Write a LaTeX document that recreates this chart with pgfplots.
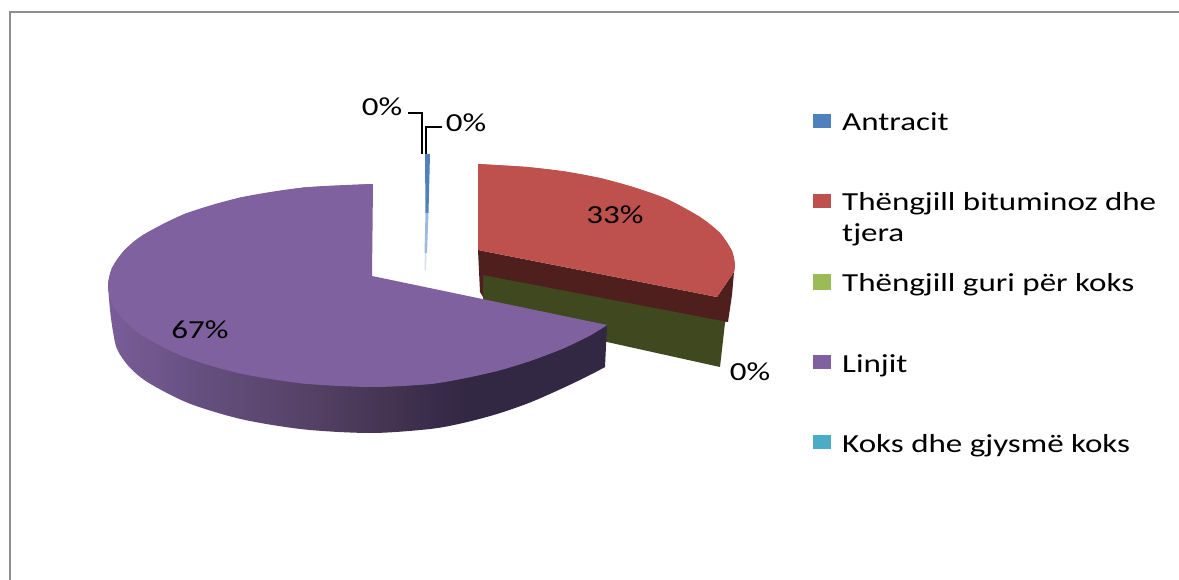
\documentclass[border=0pt]{standalone}
\usepackage{pgfplots}
\pgfplotsset{compat=1.18}
\usepackage{fontspec}
\setmainfont[FakeStretch=1.27]{Carlito}
\definecolor{cblue}{HTML}{4F81BD}
\definecolor{cred}{HTML}{BE504D}
\definecolor{cgreen}{HTML}{9BBB59}
\definecolor{cpurple}{HTML}{7F619F}
\definecolor{cteal}{HTML}{4BACC6}
\definecolor{dred}{HTML}{4E1F1D}
\definecolor{dgreen}{HTML}{40481F}
\definecolor{frame}{HTML}{8E8E8E}
\definecolor{sa}{HTML}{7A5D98}
\definecolor{sb}{HTML}{654F80}
\definecolor{sc}{HTML}{574368}
\definecolor{sd}{HTML}{42324F}
\definecolor{se}{HTML}{3A2C4C}
\definecolor{sf}{HTML}{322843}
\pgfdeclarehorizontalshading{pieside}{100bp}{color(0bp)=(sa); color(25bp)=(sa); color(34.2bp)=(sb); color(44.2bp)=(sc); color(54.2bp)=(sd); color(57.3bp)=(se); color(61.3bp)=(sf); color(100bp)=(sf)}
\tikzset{lab/.style={font=\fontsize{26}{26}\selectfont, text=black, inner sep=0pt}}
\begin{document}
\begin{tikzpicture}
\begin{axis}[
  at={(0,0)}, anchor=south west,
  width=1179pt, height=580pt, scale only axis,
  xmin=0, xmax=1179, ymin=0, ymax=580, y dir=reverse,
  axis lines=none, clip=true,
]
% canvas
\addplot[draw=none, fill=white] coordinates {(0,0) (1179,0) (1179,580) (0,580)} -- cycle;
% frame
\addplot[color=frame, line width=2.6pt] coordinates {(10,600) (10,12) (1200,12)};
% green inner face (0 %)
\addplot[draw=none, fill=dgreen] coordinates {(483,270) (727,318) (725,323) (720,367) (607,342) (483,302)} -- cycle;
% red wedge, inner wall
\addplot[draw=none, fill=dred] coordinates {(478,250) (717,297) (734,272) (732,295) (728,322) (483,275) (483,297) (480,292)} -- cycle;
% red wedge, top
\addplot[draw=none, fill=cred] coordinates {(478,164) (527,167) (565,171.5) (600,178) (633,187) (667,199) (700,217) (720,233) (732,251) (735,265) (734,272) (717,297) (478,250)} -- cycle;
\addplot[draw=none, fill=cred, smooth] coordinates {(478,164) (527,167) (565,171.5) (600,178) (633,187) (667,199) (700,217) (720,233) (732,251) (735,265) (734,272)};
% purple wedge, side
\addplot[draw=none, shading=pieside] coordinates {(108,285.5) (350,420) (605,367) (607,325) (372,300)} -- cycle;
\addplot[draw=none, shading=pieside, smooth] coordinates {(108,285.5) (110,310) (113,331.5) (117,349) (128.6,366.2) (147.7,382.25) (188.9,403.3) (242.5,419.4) (305,429.5) (372,433) (430,429) (463,423) (497,414) (530,402.5) (563,388) (590,375) (605,367)};
% purple wedge, top
\addplot[draw=none, fill=cpurple] coordinates {(373,184) (303.7,187.5) (240,197.6) (185.3,213.7) (143.4,234.75) (123.9,250.8) (112,267.9) (108,285.5) (112,303.1) (123.9,320.2) (143.4,336.25) (185.3,357.3) (240,373.4) (303.7,383.5) (372,387) (430,384) (463,378.5) (497,371) (530,361) (563,348.5) (590,335.5) (607,325) (372,276)} -- cycle;
\addplot[draw=none, fill=cpurple, smooth] coordinates {(373,184) (303.7,187.5) (240,197.6) (185.3,213.7) (143.4,234.75) (123.9,250.8) (112,267.9) (108,285.5) (112,303.1)};
\addplot[draw=none, fill=cpurple, smooth] coordinates {(112,267.9) (108,285.5) (112,303.1) (123.9,320.2) (143.4,336.25) (185.3,357.3) (240,373.4) (303.7,383.5) (372,387) (430,384) (463,378.5) (497,371) (530,361) (563,348.5) (590,335.5) (607,325)};
% blue sliver
\addplot[draw=none, fill=cblue!25] coordinates {(425,253) (426.5,253) (426,270) (424.5,270)} -- cycle;
\addplot[draw=none, fill=cblue!55!white] coordinates {(425.5,213) (428.5,213) (427,253) (424.5,253)} -- cycle;
\addplot[draw=none, fill=cblue] coordinates {(425,154) (430,154) (428.5,213) (425.5,213)} -- cycle;
% leader lines
\addplot[black, line width=1.6pt] coordinates {(422,154) (422,113) (408,113)};
\addplot[black, line width=1.6pt] coordinates {(426,154) (426,127) (442,127)};
% data labels
\node[lab] at (axis cs:382,107) {0\%};
\node[lab] at (axis cs:466,123) {0\%};
\node[lab] at (axis cs:615,215) {33\%};
\node[lab] at (axis cs:200,330) {67\%};
\node[lab] at (axis cs:750,372) {0\%};
% legend keys
\addplot[draw=none, fill=cblue] coordinates {(813,114) (831,114) (831,128) (813,128)} -- cycle;
\addplot[draw=none, fill=cred] coordinates {(813,194) (831,194) (831,208) (813,208)} -- cycle;
\addplot[draw=none, fill=cgreen] coordinates {(813,274) (831,274) (831,290) (813,290)} -- cycle;
\addplot[draw=none, fill=cpurple] coordinates {(813,355) (831,355) (831,369) (813,369)} -- cycle;
\addplot[draw=none, fill=cteal] coordinates {(813,435) (831,435) (831,449) (813,449)} -- cycle;
% legend text
\node[lab, anchor=base west] at (axis cs:842,131) {Antracit};
\node[lab, anchor=base west] at (axis cs:842,211) {Thëngjill bituminoz dhe};
\node[lab, anchor=base west] at (axis cs:842,242) {tjera};
\node[lab, anchor=base west] at (axis cs:842,292) {Thëngjill guri për koks};
\node[lab, anchor=base west] at (axis cs:842,372) {Linjit};
\node[lab, anchor=base west] at (axis cs:842,452) {Koks dhe gjysmë koks};
\end{axis}
\end{tikzpicture}
\end{document}
